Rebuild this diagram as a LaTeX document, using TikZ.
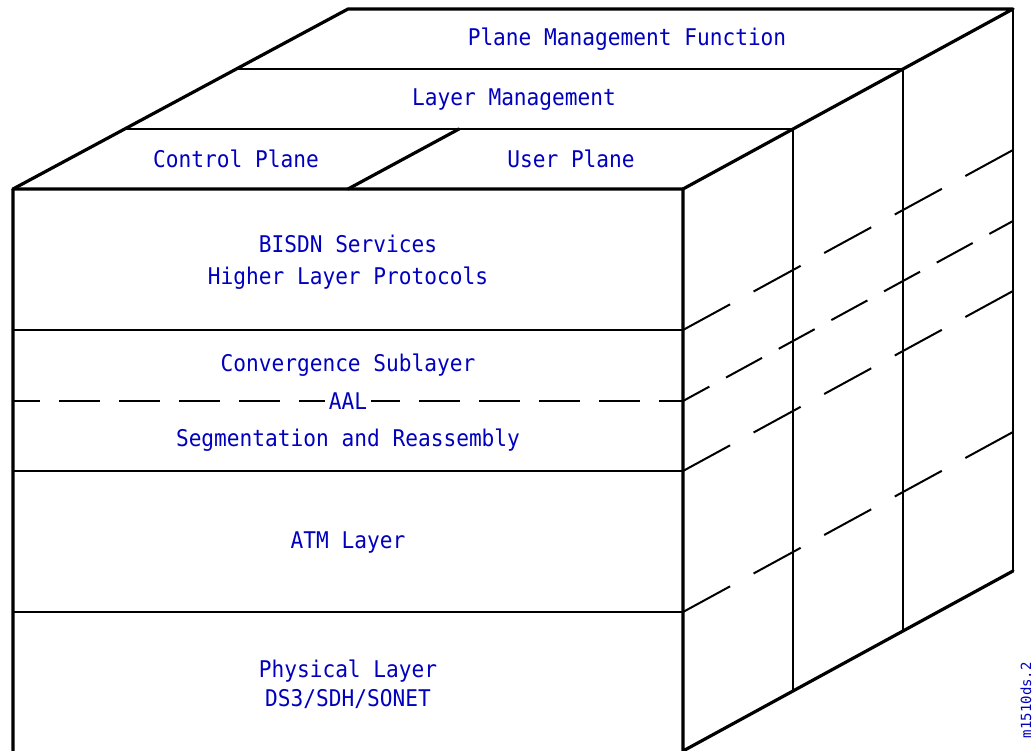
\documentclass[tikz,border=0pt]{standalone}
\usepackage{fontspec}
\newfontfamily\plotfont[FakeStretch=0.92]{DejaVu Sans Mono}
\newfontfamily\tagfont{DejaVu Sans Mono}
\definecolor{labelblue}{RGB}{0,0,190}
\begin{document}
\begin{tikzpicture}[x=1pt,y=-1pt,
  edge/.style={line width=3.2pt, line cap=round, line join=round},
  rule/.style={line width=2pt},
  layerdash/.style={line width=2pt, dash pattern=on 53.6pt off 26.8pt},
  aaldash/.style={line width=2pt, dash pattern=on 41pt off 19pt},
  lbl/.style={text=labelblue, font=\plotfont\fontsize{23}{31}\selectfont, inner sep=0pt, anchor=base},
]
\useasboundingbox (0,0) rectangle (1035,751);
\clip (0,0) rectangle (1035,751);

% corners of the cube
\coordinate (ftl) at (13,189);
\coordinate (ftr) at (683,189);
\coordinate (fbl) at (13,760);
\coordinate (fbr) at (683,751);
\coordinate (btl) at (348,9);
\coordinate (btr) at (1013,9);
\coordinate (bbr) at (1013,571);

% plane boundaries on the top face
\coordinate (p1l) at (236.3,69);
\coordinate (p1r) at (903,69);
\coordinate (p2l) at (124.7,129);
\coordinate (p2r) at (793,129);
\coordinate (divf) at (348,189);
\coordinate (divb) at (459,129);

% feet of the plane boundaries on the bottom edge
\coordinate (p1b) at (903,631);
\coordinate (p2b) at (793,691);

% layer boundaries on the front face
\coordinate (l1l) at (13,330);  \coordinate (l1r) at (683,330);
\coordinate (aall) at (13,401); \coordinate (aalr) at (683,401);
\coordinate (l2l) at (13,471);  \coordinate (l2r) at (683,471);
\coordinate (l3l) at (13,612);  \coordinate (l3r) at (683,612);

% the same boundaries on the back of the side face
\coordinate (l1b) at (1013,150);
\coordinate (aalb) at (1013,221);
\coordinate (l2b) at (1013,291);
\coordinate (l3b) at (1013,432);

% thin rules
\draw[rule] (p1l) -- (p1r);
\draw[rule] (p2l) -- (p2r);
\draw[rule] (p1r) -- (p1b);
\draw[rule] (p2r) -- (p2b);
\draw[rule] (btr) -- (bbr);
\draw[rule] (l1l) -- (l1r);
\draw[rule] (l2l) -- (l2r);
\draw[rule] (l3l) -- (l3r);

% dashed layer boundaries across the side face
\draw[layerdash] (l1r) -- (l1b);
\draw[layerdash] (l2r) -- (l2b);
\draw[layerdash] (l3r) -- (l3b);
\draw[aaldash, dash phase=11pt] (aalr) -- (aalb);
\draw[aaldash, dash phase=14pt] (aall) -- (aalr);

% outline of the cube
\draw[edge] (fbl) -- (ftl) -- (ftr) -- (fbr) -- (bbr);
\draw[edge] (ftl) -- (btl) -- (btr) -- (ftr);
\draw[edge] (divf) -- (divb);

% labels
\node[lbl] (pmf) at (627,46) {Plane Management Function};
\node[lbl] (lm) at (514,106) {Layer Management};
\node[lbl] (cp) at (236,168) {Control Plane};
\node[lbl] (up) at (571,168) {User Plane};
\node[lbl] (bisdn) at (348,252) {BISDN Services};
\node[lbl] (hlp) at (348,284) {Higher Layer Protocols};
\node[lbl] (cs) at (348,371) {Convergence Sublayer};
\node[lbl, fill=white, inner xsep=4pt, inner ysep=2pt] (aal) at (348,409.5) {AAL};
\node[lbl] (sar) at (348,446) {Segmentation and Reassembly};
\node[lbl] (atm) at (348,548) {ATM Layer};
\node[lbl] (phy) at (348,677) {Physical Layer};
\node[lbl] (ds3) at (348,706) {DS3/SDH/SONET};

% figure tag
\node[text=labelblue, font=\tagfont\fontsize{14}{16}\selectfont, inner sep=0pt, rotate=90, anchor=base east] (tag) at (1031,662) {m1510ds.2};
\end{tikzpicture}
\end{document}
